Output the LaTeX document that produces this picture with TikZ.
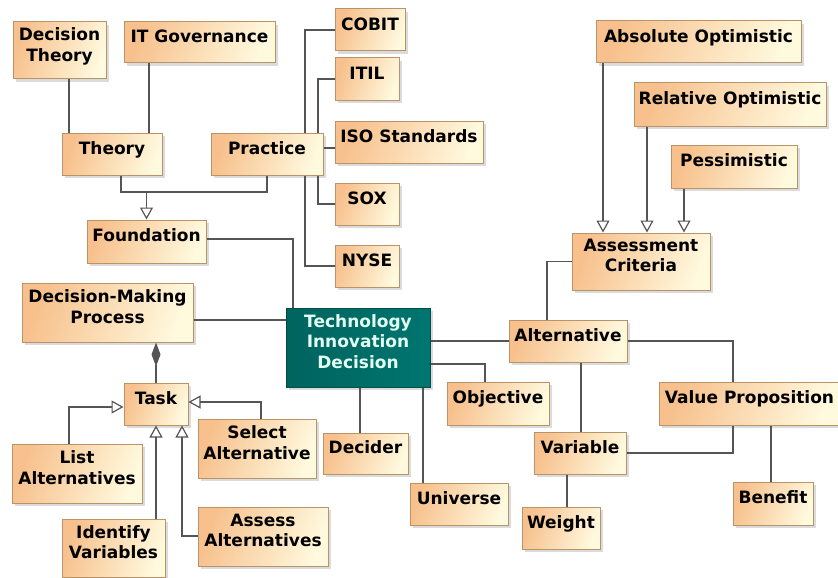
\documentclass[tikz,border=0pt]{standalone}
\usepackage{fontspec}
\setmainfont{DejaVu Sans}
\usetikzlibrary{arrows.meta,shadows,calc}

\definecolor{boxdark}{RGB}{247,192,140}
\definecolor{boxlight}{RGB}{255,249,222}
\definecolor{boxline}{RGB}{186,148,104}
\definecolor{tidfill}{RGB}{0,117,111}
\definecolor{tidline}{RGB}{0,78,74}
\definecolor{tidtext}{RGB}{226,255,242}
\definecolor{edgegray}{RGB}{85,85,85}

\begin{document}
\begin{tikzpicture}[
    x=1pt, y=-1pt,
    block/.style={draw=boxline, line width=1pt, rectangle, left color=boxdark, right color=boxlight, shading angle=70,
        drop shadow={shadow xshift=3pt, shadow yshift=-3pt, fill=black!28},
        align=center, text depth=12pt, inner sep=2pt, font=\bfseries\fontsize{17}{20.5}\selectfont},
    tidblock/.style={block, draw=tidline, left color=tidfill!85!black, right color=tidfill, text=tidtext},
    edge/.style={draw=edgegray, line width=1.4pt},
    gen/.style={edge, -{Triangle[open, length=12pt, width=13pt, line width=1.2pt]}},
    comp/.style={edge, {Diamond[length=24pt, width=9pt]}-},
]
\useasboundingbox (0,0) rectangle (838,578);

% Foundation side
\node[block, minimum width=93pt, minimum height=57pt] (dtheory) at (59.5,50.5) {Decision\\Theory};
\node[block, minimum width=151pt, minimum height=41pt] (itgov) at (199.5,42.5) {IT Governance};
\node[block, minimum width=100pt, minimum height=42pt] (theory) at (112,154) {Theory};
\node[block, minimum width=112pt, minimum height=42pt] (practice) at (267,154) {Practice};
\node[block, minimum width=119pt, minimum height=43pt] (foundation) at (146.5,241.5) {Foundation};

% Standards
\node[block, minimum width=70pt, minimum height=42pt] (cobit) at (370,30) {COBIT};
\node[block, minimum width=64pt, minimum height=42pt] (itil) at (367,79) {ITIL};
\node[block, minimum width=148pt, minimum height=42pt] (iso) at (409,142) {ISO Standards};
\node[block, minimum width=64pt, minimum height=42pt] (sox) at (367,204) {SOX};
\node[block, minimum width=64pt, minimum height=42pt] (nyse) at (367,266) {NYSE};

% Process and tasks
\node[block, minimum width=171pt, minimum height=59pt] (dmp) at (107.5,312.5) {Decision-Making\\Process};
\node[block, minimum width=64pt, minimum height=42pt] (task) at (156,404) {Task};
\node[block, minimum width=130pt, minimum height=59pt] (listalt) at (77,473.5) {List\\Alternatives};
\node[block, minimum width=118pt, minimum height=59pt] (selalt) at (257,448.5) {Select\\Alternative};
\node[block, minimum width=103pt, minimum height=58pt] (idvar) at (113.5,548) {Identify\\Variables};
\node[block, minimum width=130pt, minimum height=59pt] (assalt) at (263,536.5) {Assess\\Alternatives};

% Central decision
\node[tidblock, minimum width=144pt, minimum height=79pt] (tid) at (358,347.5) {Technology\\Innovation\\Decision};
\node[block, minimum width=85pt, minimum height=41pt] (decider) at (365.5,453.5) {Decider};
\node[block, minimum width=98pt, minimum height=42pt] (universe) at (459,504) {Universe};
\node[block, minimum width=102pt, minimum height=43pt] (objective) at (498,403.5) {Objective};

% Alternatives side
\node[block, minimum width=118pt, minimum height=42pt] (alternative) at (568,341) {Alternative};
\node[block, minimum width=138pt, minimum height=57pt] (criteria) at (641,261.5) {Assessment\\Criteria};
\node[block, minimum width=205pt, minimum height=42pt] (absopt) at (698.5,42) {Absolute Optimistic};
\node[block, minimum width=192pt, minimum height=43pt] (relopt) at (730,104.5) {Relative Optimistic};
\node[block, minimum width=126pt, minimum height=43pt] (pessim) at (734,166.5) {Pessimistic};
\node[block, minimum width=92pt, minimum height=42pt] (variable) at (580,453) {Variable};
\node[block, minimum width=78pt, minimum height=42pt] (weight) at (561,528) {Weight};
\node[block, minimum width=181pt, minimum height=43pt] (valueprop) at (749.5,403.5) {Value Proposition};
\node[block, minimum width=80pt, minimum height=43pt] (benefit) at (773,503.5) {Benefit};

% Theory / practice
\draw[edge] (69,0 |- dtheory.south) -- (69,0 |- theory.north);
\draw[edge] (149,0 |- itgov.south) -- (149,0 |- theory.north);
\draw[edge] (121,0 |- theory.south) |- (practice.south |- 0,192) -- (practice.south);
\draw[gen] (foundation.north |- 0,192) -- (foundation.north);
\draw[edge] (305,0 |- practice.north) |- (cobit.west);
\draw[edge] (318,0 |- practice.north) |- (itil.west);
\draw[edge] (practice.east |- 0,148) -- (iso.west |- 0,148);
\draw[edge] (318,0 |- practice.south) |- (sox.west);
\draw[edge] (305,0 |- practice.south) |- (nyse.west);

% Links into the decision
\draw[edge] (foundation.east |- 0,239) -| (293,0 |- tid.north);
\draw[edge] (dmp.east |- 0,320) -- (tid.west |- 0,320);
\draw[edge] (360,0 |- tid.south) -- (360,0 |- decider.north);
\draw[edge] (423,0 |- tid.south) -- (423,0 |- universe.north);
\draw[edge] (tid.east |- alternative.west) -- (alternative.west);
\draw[edge] (tid.east |- 0,364) -| (485,0 |- objective.north);

% Tasks
\draw[comp] (156,0 |- dmp.south) -- (task.north);
\draw[gen] (69,0 |- listalt.north) |- (task.west |- 0,407);
\draw[gen] (261,0 |- selalt.north) |- (task.east |- 0,402);
\draw[gen] (156,0 |- idvar.north) -- (156,0 |- task.south);
\draw[gen] (assalt.west |- 0,536) -| (182,0 |- task.south);

% Criteria and alternatives
\draw[gen] (603,0 |- absopt.south) -- (603,0 |- criteria.north);
\draw[gen] (647,0 |- relopt.south) -- (647,0 |- criteria.north);
\draw[gen] (684,0 |- pessim.south) -- (684,0 |- criteria.north);
\draw[edge] (547,0 |- alternative.north) |- (criteria.west);
\draw[edge] (581,0 |- alternative.south) -- (581,0 |- variable.north);
\draw[edge] (alternative.east) -| (733,0 |- valueprop.north);
\draw[edge] (variable.east) -| (733,0 |- valueprop.south);
\draw[edge] (567,0 |- variable.south) -- (567,0 |- weight.north);
\draw[edge] (771,0 |- valueprop.south) -- (771,0 |- benefit.north);

\end{tikzpicture}
\end{document}
